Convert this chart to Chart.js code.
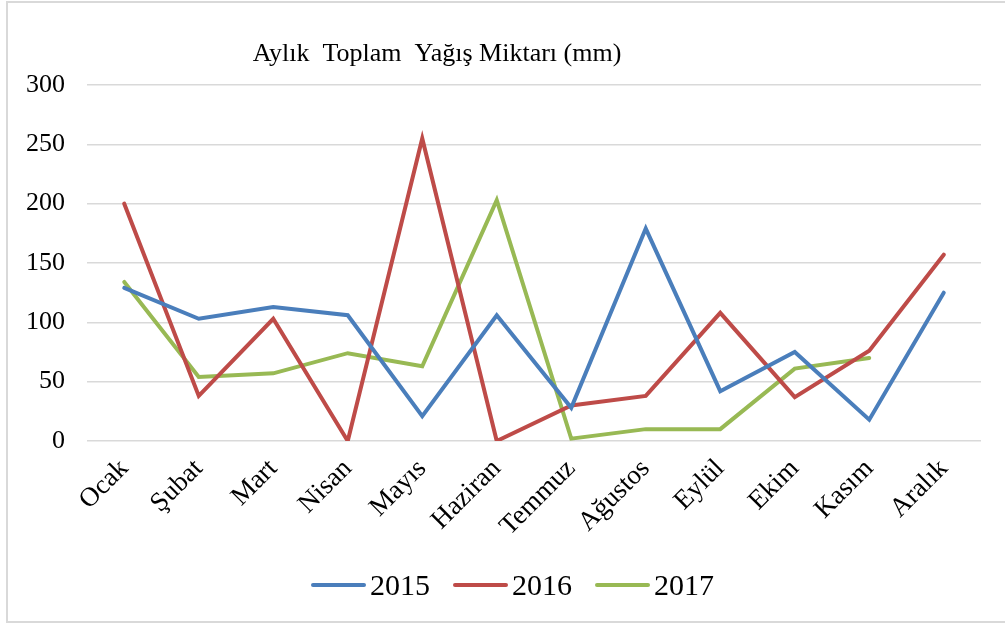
<!DOCTYPE html>
<html>
<head>
<meta charset="utf-8">
<script src="https://cdn.jsdelivr.net/npm/chart.js@4"></script>
<style>
  html, body { margin: 0; padding: 0; background: #ffffff; }
  body { width: 1005px; height: 630px; position: relative; overflow: hidden; }
  #frame {
    position: absolute; left: 6px; top: 1px; width: 1010px; height: 622px;
    border: 2px solid #d9d9d9; box-sizing: border-box;
  }
  #wrap { position: absolute; left: 0; top: 0; width: 1005px; height: 630px; }
  #legend {
    position: absolute; left: 311px; top: 566px; height: 38px;
    display: flex; align-items: center; gap: 23px;
    font-family: 'Liberation Serif', 'Times New Roman', serif; font-size: 30px; color: #000;
  }
  .item { display: flex; align-items: center; }
  .swatch { width: 55px; height: 4px; border-radius: 2px; margin-right: 4px; }
</style>
</head>
<body>
<div id="frame"></div>
<div id="wrap"><canvas id="chart"></canvas></div>
<div id="legend"></div>
<script>
// Chart data
const months = ["Ocak", "Şubat", "Mart", "Nisan", "Mayıs", "Haziran", "Temmuz", "Ağustos", "Eylül", "Ekim", "Kasım", "Aralık"];
const rain2015 = [129, 103, 113, 106, 21, 106, 28, 179, 42, 75, 18, 125];
const rain2016 = [200, 38, 103, 0, 255, 0, 30, 38, 108, 37, 76, 157];
const rain2017 = [134, 54, 57, 74, 63, 203, 2, 10, 10, 61, 70, null];
const yTicks = [0, 50, 100, 150, 200, 250, 300];
const chartTitle = "Aylık  Toplam  Yağış Miktarı (mm)";

const serif = "'Liberation Serif', 'Times New Roman', serif";

// draws the title where the original has it (left of centre)
const titlePlugin = {
    id: "titleText",
    afterDraw(chart) {
        const ctx = chart.ctx;
        ctx.save();
        ctx.font = "26px " + serif;
        ctx.fillStyle = "#000";
        ctx.textAlign = "center";
        ctx.textBaseline = "middle";
        ctx.fillText(chartTitle, 437, 54);
        ctx.restore();
    }
};

function makeLine(label, data, color) {
    return {
        label: label,
        data: data,
        borderColor: color,
        backgroundColor: color,
        borderWidth: 4,
        pointRadius: 0,
        tension: 0,
        spanGaps: false,
        borderCapStyle: "round",
        borderJoinStyle: "miter"
    };
}

const chart = new Chart(document.getElementById("chart"), {
    type: "line",
    data: {
        labels: months,
        datasets: [
            makeLine("2015", rain2015, "#4a7ebb"),
            makeLine("2016", rain2016, "#be4b48"),
            makeLine("2017", rain2017, "#98b954")
        ]
    },
    options: {
        responsive: true,
        maintainAspectRatio: false,
        animation: false,
        layout: { padding: { left: 10, right: 24, top: 85, bottom: 71 } },
        plugins: {
            title: { display: false },
            tooltip: { enabled: false },
            legend: { display: false }
        },
        scales: {
            x: {
                offset: true,
                grid: { display: false, drawTicks: false },
                border: { display: false },
                ticks: {
                    color: "#000",
                    font: { family: serif, size: 27 },
                    minRotation: 45,
                    maxRotation: 45,
                    padding: 12,
                    autoSkip: false
                },
                afterFit(scale) { scale.height = 118; }
            },
            y: {
                min: 0,
                max: 300,
                afterBuildTicks(scale) { scale.ticks = yTicks.map(v => ({ value: v })); },
                grid: { color: "#d9d9d9", lineWidth: 1.5, drawTicks: false },
                border: { display: false },
                ticks: {
                    color: "#000",
                    font: { family: serif, size: 26 },
                    padding: 22
                },
                afterFit(scale) { scale.width = 77; }
            }
        }
    },
    plugins: [titlePlugin]
});

// legend built from the datasets, placed like the original (slightly right of centre)
const legendBox = document.getElementById("legend");
chart.data.datasets.forEach(ds => {
    const item = document.createElement("div");
    item.className = "item";
    item.innerHTML = `<span class="swatch" style="background:${ds.borderColor}"></span><span>${ds.label}</span>`;
    legendBox.appendChild(item);
});
</script>
</body>
</html>
